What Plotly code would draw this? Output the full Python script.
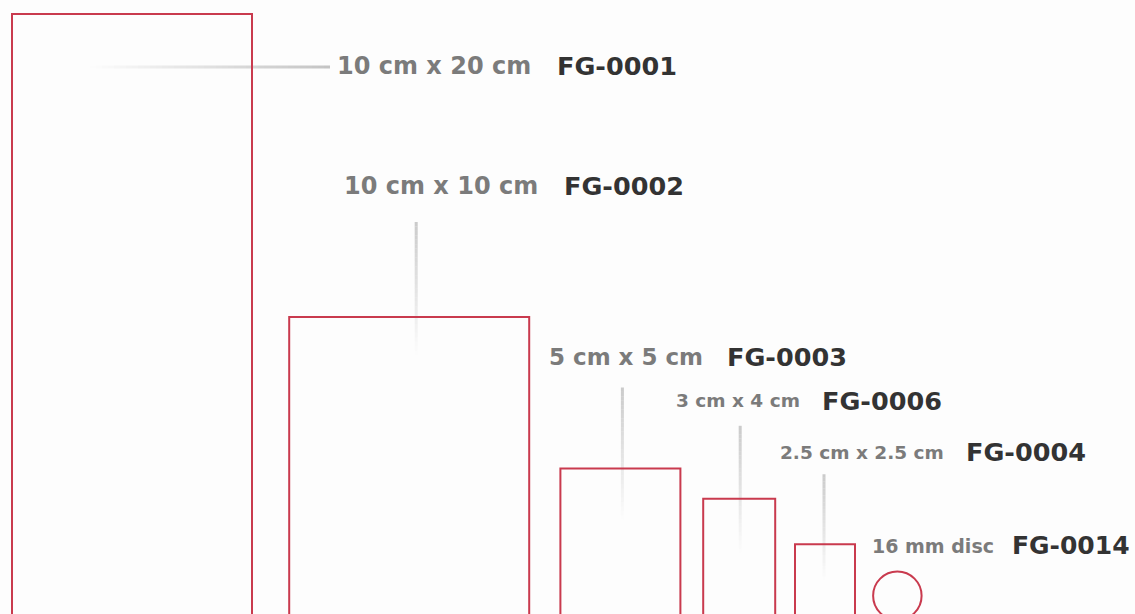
import plotly.graph_objects as go

# ---------------- data ----------------
products = ["FG-0001", "FG-0002", "FG-0003", "FG-0006", "FG-0004", "FG-0014"]
size_labels = ["10 cm x 20 cm", "10 cm x 10 cm", "5 cm x 5 cm",
               "3 cm x 4 cm", "2.5 cm x 2.5 cm", "16 mm disc"]
widths_cm = [10, 10, 5, 3, 2.5, 1.6]
heights_cm = [20, 10, 5, 4, 2.5, 1.6]
kinds = ["rect", "rect", "rect", "rect", "rect", "disc"]

# ---------------- layout / style ----------------
W, H = 1135, 614
SX, SY = 24.0, 30.3          # px per cm on x and y
X_ORIGIN_PX = 12             # px position of x = 0
BASE_PX = 620                # px position of y = 0 (just below the frame)
x_range = [-X_ORIGIN_PX / SX, (W - X_ORIGIN_PX) / SX]
y_range = [(BASE_PX - H) / SY, BASE_PX / SY]

RED = "#c93a4e"
GRAY_TXT = "#7b7b7b"
DARK_TXT = "#333333"
BG = "#fdfdfd"
FONT = "DejaVu Sans"

label_above_px = [-52, 131, 112, 98, 92, 26]     # label centre above shape top
split_px = [412, 142, 95, 72, 130, 106]          # split point from shape centre
half_gap_px = [11, 11, 10, 9, 9, 7]
size_font = [24, 24, 23, 18.5, 18.5, 19]
code_font = [25.5, 25.5, 25.5, 25.5, 25.5, 25]
leader_gap_px = [0, 36, 31, 25, 22, None]        # below label
leader_over_px = [0, 38, 51, 54, 36, None]       # below shape top
leader_dx_px = [0, 7, 2, 1, -1, 0]               # leader offset from shape centre


def px_x(p):
    return (p - X_ORIGIN_PX) / SX


def px_y(p):
    return (BASE_PX - p) / SY


def to_px_x(x):
    return X_ORIGIN_PX + x * SX


def to_px_y(y):
    return BASE_PX - y * SY


fig = go.Figure()
shapes = []
annotations = []

# displayed width in x-units (disc keeps its round look)
disp_w = [w * SY / SX if k == "disc" else w for w, k in zip(widths_cm, kinds)]

x_left = []
cur = 0.0
for i, w in enumerate(widths_cm):
    if i > 0:
        cur += disp_w[i - 1] + 0.55 + 0.1 * (widths_cm[i - 1] + w) / 2
    x_left.append(cur)


def gradient_line(x0p, y0p, x1p, y1p, a0, a1, n=30, width=3):
    for j in range(n):
        t0, t1 = j / n, (j + 1) / n
        a = a0 + (a1 - a0) * (t0 + t1) / 2
        shapes.append(dict(
            type="line", xref="x", yref="y", layer="below",
            x0=px_x(x0p + (x1p - x0p) * t0), y0=px_y(y0p + (y1p - y0p) * t0),
            x1=px_x(x0p + (x1p - x0p) * t1), y1=px_y(y0p + (y1p - y0p) * t1),
            line=dict(color=f"rgba(185,185,185,{a:.3f})", width=width)))


for i in range(len(products)):
    xl = x_left[i]
    xr = xl + disp_w[i]
    top = heights_cm[i]
    cx = (xl + xr) / 2
    cxp = to_px_x(cx)
    topp = to_px_y(top)
    label_yp = topp - label_above_px[i]

    if kinds[i] == "rect":
        fig.add_trace(go.Scatter(
            x=[xl, xr, xr, xl, xl], y=[0, 0, top, top, 0],
            mode="lines", line=dict(color=RED, width=2),
            hoverinfo="skip", showlegend=False))
    else:
        r = heights_cm[i] / 2
        shapes.append(dict(type="circle", xref="x", yref="y",
                           x0=xl, x1=xr, y0=0, y1=2 * r,
                           line=dict(color=RED, width=2)))

    split_xp = cxp + split_px[i]
    annotations.append(dict(
        x=px_x(split_xp - half_gap_px[i]), y=px_y(label_yp), xref="x", yref="y",
        text=size_labels[i], showarrow=False, xanchor="right", yanchor="middle",
        font=dict(family=FONT, size=size_font[i], color=GRAY_TXT, weight="bold")))
    annotations.append(dict(
        x=px_x(split_xp + half_gap_px[i]), y=px_y(label_yp), xref="x", yref="y",
        text=products[i], showarrow=False, xanchor="left", yanchor="middle",
        font=dict(family=FONT, size=code_font[i], color=DARK_TXT, weight="bold")))

    if i == 0:
        gradient_line(to_px_x(xl) + 78, label_yp + 1, split_xp - 214, label_yp + 1,
                      0.0, 0.85, n=40)
    elif leader_gap_px[i] is not None:
        lx = cxp + leader_dx_px[i]
        gradient_line(lx, label_yp + leader_gap_px[i], lx, topp + leader_over_px[i],
                      0.75, 0.0, n=30)

fig.update_layout(
    width=W, height=H,
    margin=dict(l=0, r=0, t=0, b=0),
    paper_bgcolor=BG, plot_bgcolor=BG,
    xaxis=dict(range=x_range, visible=False, fixedrange=True),
    yaxis=dict(range=y_range, visible=False, fixedrange=True),
    shapes=shapes, annotations=annotations,
    showlegend=False,
)

fig.write_html(
    "out.html",
    config={"displayModeBar": False},
    post_script="document.body.style.margin='0';document.body.style.overflow='hidden';"
                "document.body.style.background='#fdfdfd';",
)
